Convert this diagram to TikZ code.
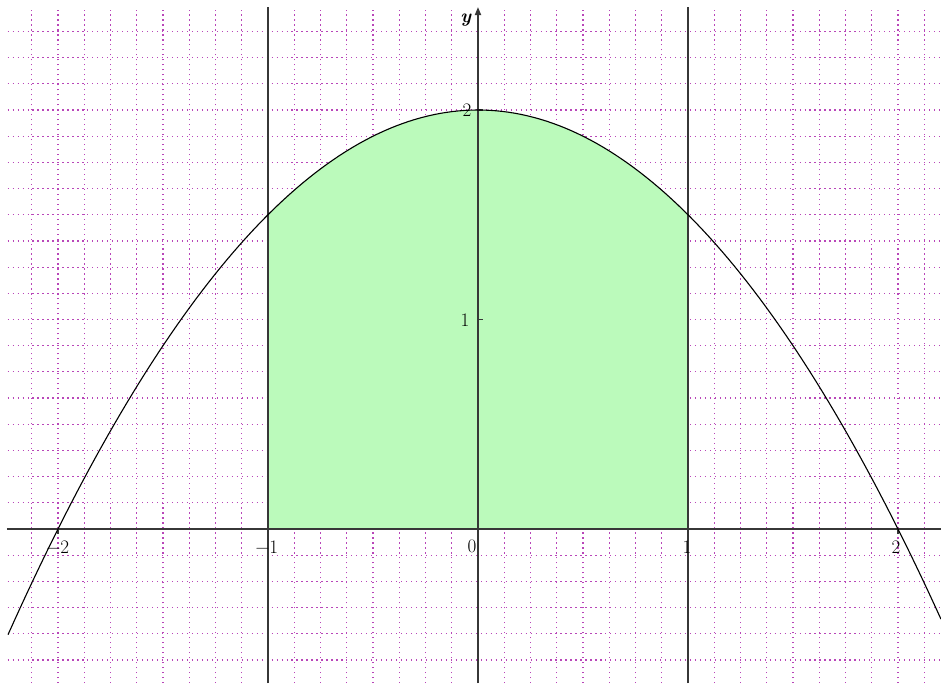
\documentclass[tikz,border=0pt]{standalone}
\usetikzlibrary{arrows.meta,positioning}
\definecolor{gridpurple}{RGB}{185,70,185}
\definecolor{areagreen}{RGB}{187,250,187}
\definecolor{axisgray}{RGB}{55,55,55}
\tikzset{
	gridline/.style={gridpurple, line width=1.2pt, dash pattern=on 1.2pt off 3.76pt},% dotted grid every 1/8
	axisline/.style={axisgray, line width=1.7pt},
	boundline/.style={axisgray, line width=1.5pt},
	ticklabel/.style={font=\fontsize{19}{21}\selectfont, inner sep=0pt}
}
\begin{document}
\begin{tikzpicture}[x=7.35cm,y=7.3325cm,
        curveline/.style={black, line width=1.1pt},
        tickmark/.style={axisgray, line width=1.2pt}
        ]
            \useasboundingbox (-2.2762,-0.7351) rectangle (2.2048,2.5251);
            % grid
            \foreach \i in {-17,...,17}
                \draw[gridline] (\i/8,-0.7351) -- (\i/8,2.477);
            \foreach \j in {-5,...,19}
                \draw[gridline] (-2.24,\j/8) -- (2.2048,\j/8);
            % area under the parabola
            \fill[areagreen] (-1,0) -- plot[domain=-1:1, samples=60] (\x,{2-\x*\x/2}) -- (1,0) -- cycle;
            \coordinate (xleft) at (-2.243,0);
            \coordinate (xright) at (2.2048,0);
            \coordinate (ybottom) at (0,-0.7351);
            \coordinate (ytop) at (0,2.4916);
            \coordinate (ltop) at (-1,2.4916);
            \coordinate (lbottom) at (-1,-0.7351);
            \coordinate (rtop) at (1,2.4916);
            \coordinate (rbottom) at (1,-0.7351);
            \draw[axisline] (xleft) -- (xright);
            \draw[axisline, -{Triangle[length=8pt,width=6pt]}] (ybottom) -- (ytop);
            \path[boundline]
                (lbottom) edge (ltop)
                (rbottom) edge (rtop);
            \foreach \t in {-2,-1,1,2}
                \draw[tickmark] (\t,0) -- (\t,-0.024);
            \foreach \t in {1,2}
                \draw[tickmark] (0,\t) -- (0.024,\t);
            \draw[curveline] plot[domain=-2.238:2.2048, samples=150] (\x,{2-\x*\x/2});
            % labels
            \node[ticklabel] (xm2) at (-2,-0.086) {−2};
            \node[ticklabel] (xm1) at (-1.005,-0.086) {−1};
            \node[ticklabel] (x0) at (-0.029,-0.081) {0};
            \node[ticklabel] (x1) at (0.995,-0.086) {1};
            \node[ticklabel] (x2) at (1.99,-0.086) {2};
            \node[ticklabel] (y1) at (-0.062,0.998) {1};
            \node[ticklabel] (y2) at (-0.052,2.0) {2};
            \node[ticklabel] (ylab) at (-0.057,2.43) {\textbf{\itshape y}};
        \end{tikzpicture}
\end{document}
